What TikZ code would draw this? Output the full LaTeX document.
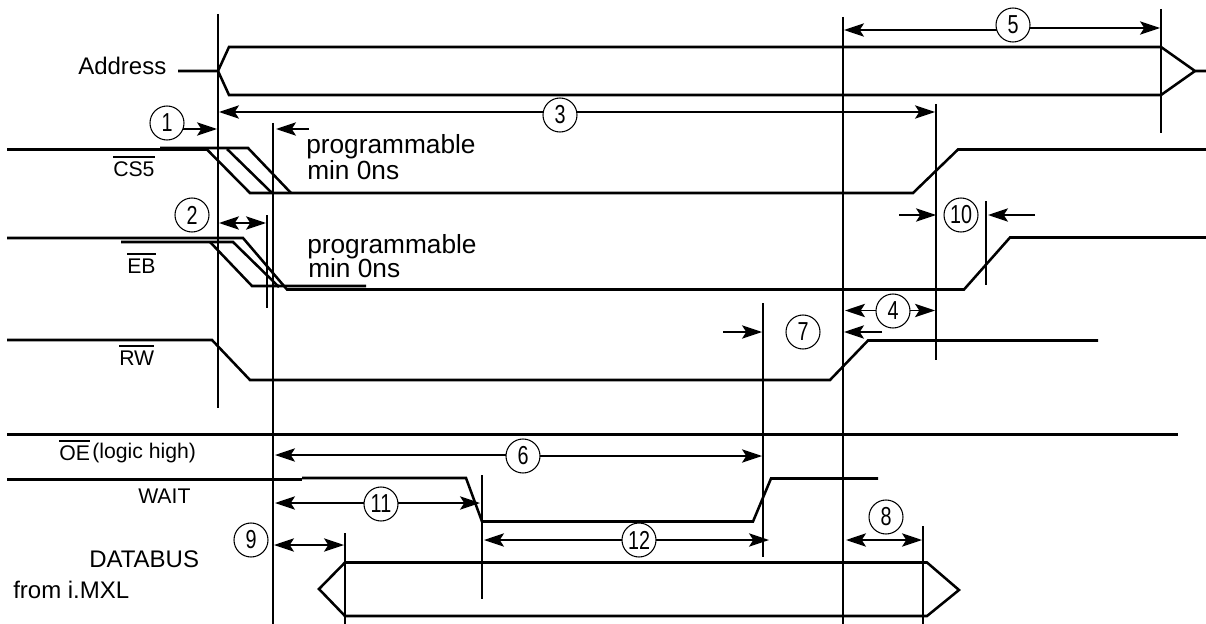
\documentclass[tikz,border=0pt]{standalone}
\usepackage{fontspec}
\setmainfont{Liberation Sans}
\newfontfamily\numfont[FakeStretch=0.76]{Liberation Sans}
\usetikzlibrary{arrows.meta,backgrounds}
\newcommand{\ovbar}[1]{\leavevmode\vbox{\hrule height 1.3pt\kern 2.4pt\hbox{#1}}}
\tikzset{
  x=0.75pt,y=-0.75pt,
  wave/.style={line width=1.9pt,line join=miter},
  thickwave/.style={line width=2.6pt},
  tick/.style={line width=1.5pt},
  dim/.style={line width=1.15pt},
  tip/.tip={Stealth[length=15pt,width=10pt,inset=3.2pt]},
  dimr/.style={dim,-{tip}},
  dimb/.style={dim,{tip}-{tip}},
  num/.style={circle,draw,line width=0.8pt,fill=white,minimum size=25.5pt,inner sep=0pt,font=\numfont\fontsize{19.5pt}{19.5pt}\selectfont},
  lab/.style={anchor=base west,inner sep=0pt,font=\fontsize{15.9pt}{16pt}\selectfont},
  labm/.style={anchor=base west,inner sep=0pt,font=\fontsize{18pt}{18pt}\selectfont},
  labl/.style={anchor=base west,inner sep=0pt,font=\fontsize{19.7pt}{20pt}\selectfont},
}
\begin{document}
\begin{tikzpicture}
\useasboundingbox (0,0) rectangle (1206,624);
% vertical reference lines
\draw[tick] (218,14) -- (218,408);
\draw[tick] (273,123) -- (273,624);
\draw[tick] (267,215) -- (267,308);
\draw[tick] (843,17) -- (843,624);
\draw[tick] (936,104) -- (936,360);
\draw[tick] (1161,9) -- (1161,133);
\draw[tick] (986,201) -- (986,285);
\draw[tick] (763,303) -- (763,557);
\draw[tick] (482,475) -- (482,599);
\draw[tick] (345,533) -- (345,624);
\draw[tick] (923,526) -- (923,624);
% Address
\draw[wave] (178,71) -- (218,71) -- (229,47) -- (1161,47) -- (1195,71) -- (1206,71);
\draw[wave] (218,71) -- (229,95) -- (1161,95) -- (1195,71);
% CS5
\draw[wave] (7,149.5) -- (207,149.5) -- (250,193) -- (913,193) -- (958,149.5) -- (1206,149.5);
\draw[wave] (160,148) -- (248,148) -- (291,193);
\draw[wave] (227,149) -- (272,193);
% EB
\draw[wave] (7,238) -- (243,238) -- (287,289.5) -- (964,289.5) -- (1010,237.5) -- (1206,237.5);
\draw[wave] (121,242) -- (233,242) -- (279,287);
\draw[wave] (210,242) -- (252,286) -- (366,286);
% RW
\draw[wave] (7,340) -- (212,340) -- (250,380) -- (830,380) -- (868,340.5) -- (1098,340.5);
% OE
\draw[thickwave] (7,434.5) -- (1178,434.5);
% WAIT
\draw[thickwave] (7,479.5) -- (302,479.5);
\draw[wave] (302,478) -- (466,478) -- (482,521.5) -- (753,521.5) -- (771,478.5) -- (878,478.5);
% Databus
\draw[wave] (345,562.5) -- (927,562.5) -- (959,590) -- (927,616) -- (345,616) -- (319,589) -- cycle;
% numbered circles
\node[num] (c1) at (167,123) {1};
\node[num] (c2) at (192,215) {2};
\node[num] (c3) at (560,115) {3};
\node[num] (c4) at (893,311) {4};
\node[num] (c5) at (1013,25) {5};
\node[num] (c6) at (523,456) {6};
\node[num] (c7) at (803,332) {7};
\node[num] (c8) at (886,517) {8};
\node[num] (c9) at (251,540) {9};
\node[num] (c10) at (961,215) {10};
\node[num] (c11) at (381,504) {11};
\node[num] (c12) at (639,540) {12};
% arrow ends
\coordinate (a1) at (217,129);
\coordinate (a2l) at (219,223);
\coordinate (a2r) at (266,223);
\coordinate (a3l) at (219,112);
\coordinate (a3r) at (935,112);
\coordinate (a4l) at (845,310.5);
\coordinate (a4r) at (935,310.5);
\coordinate (a5l) at (844,30);
\coordinate (a5r) at (1160,28);
\coordinate (a6l) at (275,455);
\coordinate (a6r) at (762,456);
\coordinate (a7ls) at (723,332);
\coordinate (a7le) at (762,332);
\coordinate (a7rs) at (882,332);
\coordinate (a7re) at (844,332);
\coordinate (a8l) at (846,540);
\coordinate (a8r) at (922,540);
\coordinate (a9l) at (274,545);
\coordinate (a9r) at (344,545);
\coordinate (a10ls) at (899,215);
\coordinate (a10le) at (936,215);
\coordinate (a10rs) at (1035,215);
\coordinate (a10re) at (988,215);
\coordinate (a11l) at (275,503);
\coordinate (a11r) at (480,503);
\coordinate (a12l) at (484,540);
\coordinate (a12r) at (769,540);
\coordinate (aps) at (309,129);
\coordinate (ape) at (276,129);
\begin{scope}[on background layer]
\draw[dimr] (c1 |- a1) -- (a1);
\draw[dimb] (a2l) -- (a2r);
\draw[dimr] (c3 |- a3l) -- (a3l);
\draw[dimr] (c3 |- a3r) -- (a3r);
\draw[dimr] (c4 |- a4l) -- (a4l);
\draw[dimr] (c4 |- a4r) -- (a4r);
\draw[dimr] (c5 |- a5l) -- (a5l);
\draw[dimr] (c5 |- a5r) -- (a5r);
\draw[dimr] (c6 |- a6l) -- (a6l);
\draw[dimr] (c6 |- a6r) -- (a6r);
\draw[dimr] (a7ls) -- (a7le);
\draw[dimr] (a7rs) -- (a7re);
\draw[dimb] (a8l) -- (a8r);
\draw[dimb] (a9l) -- (a9r);
\draw[dimr] (a10ls) -- (a10le);
\draw[dimr] (a10rs) -- (a10re);
\draw[dimr] (c11 |- a11l) -- (a11l);
\draw[dimr] (c11 |- a11r) -- (a11r);
\draw[dimr] (c12 |- a12l) -- (a12l);
\draw[dimr] (c12 |- a12r) -- (a12r);
\draw[dimr] (aps) -- (ape);
\end{scope}
% labels
\node[labm] (tAddr) at (78,75) {Address};
\node[lab] (tCS) at (113,176) {\ovbar{CS5}};
\node[lab] (tEB) at (127,273) {\ovbar{EB}};
\node[lab] (tRW) at (119,365) {\ovbar{RW}};
\node[lab] (tOE) at (59,460) {\ovbar{OE}};
\node[lab] (tOEb) at (92,458) {(logic high)};
\node[lab] (tWAIT) at (138,503) {WAIT};
\node[labm] (tDB) at (89,567) {DATABUS};
\node[labm] (tFrom) at (13,598) {from i.MXL};
\node[labl] (tP1) at (306,154) {programmable};
\node[labl] (tM1) at (307,180) {min 0ns};
\node[labl] (tP2) at (307,253) {programmable};
\node[labl] (tM2) at (308,277) {min 0ns};
\end{tikzpicture}
\end{document}
